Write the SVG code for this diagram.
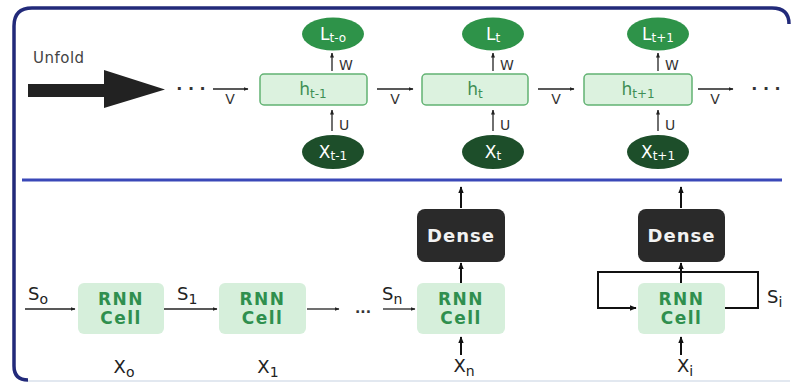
<svg xmlns="http://www.w3.org/2000/svg" width="792" height="383" viewBox="0 0 792 383">
<defs>
<marker id="ah" viewBox="0 0 10 10" refX="9" refY="5" markerWidth="5" markerHeight="5" orient="auto" markerUnits="userSpaceOnUse">
<path d="M0,1 L10,5 L0,9 Z" fill="#222"/>
</marker>
<marker id="ahb" viewBox="0 0 10 10" refX="9" refY="5" markerWidth="7" markerHeight="7" orient="auto" markerUnits="userSpaceOnUse">
<path d="M0,1 L10,5 L0,9 Z" fill="#111"/>
</marker>
</defs>
<style>
text{font-family:"DejaVu Sans","Liberation Sans",sans-serif;}
.lbl{fill:#333;font-size:14px;}
.hbox{fill:#dcf2df;stroke:#62b273;stroke-width:1.5;}
.hl{fill:#3f8f55;font-size:17px;text-anchor:middle;}
.Lnode{fill:#2e9349;}
.Xnode{fill:#1d4e2a;}
.wt{fill:#fff;font-size:17px;text-anchor:middle;}
.cell{fill:#d6efdb;}
.ct{fill:#2f8f4e;font-size:17px;font-weight:700;text-anchor:middle;letter-spacing:1.5px;}
.dense{fill:#2a2a2a;}
.dt{fill:#f2f2f2;font-size:18px;font-weight:700;text-anchor:middle;letter-spacing:1px;}
.xl{fill:#222;font-size:18px;text-anchor:middle;}
.sl{fill:#222;font-size:18px;}
.c{stroke:#222;stroke-width:1.3;fill:none;}
.cb{stroke:#111;stroke-width:2;fill:none;}
.sub{font-size:12px;}
.sub2{font-size:14px;}
</style>
<rect x="0" y="0" width="792" height="383" fill="#ffffff"/>
<g id="frame">
<path d="M28 380 Q14 380 14 366 L14 26 Q14 8 32 8 L772 8 Q789 8 789 24" fill="none" stroke="#222a7a" stroke-width="3.5"/>
<line x1="28" y1="381" x2="790" y2="381" stroke="#e2e8f0" stroke-width="2"/>
<line x1="22" y1="180" x2="782" y2="180" stroke="#3a48b8" stroke-width="3"/>
</g>

<g id="unfold">
<text x="33" y="63" style="font-size:15px;fill:#444;letter-spacing:0.5px">Unfold</text>
<path d="M28 84 L104 84 L104 70 L165 89.5 L104 108 L104 97 L28 97 Z" fill="#222"/>
</g>

<g id="connectors">
<line x1="213" y1="89" x2="248" y2="89" class="c" marker-end="url(#ah)"/>
<line x1="377" y1="89" x2="413" y2="89" class="c" marker-end="url(#ah)"/>
<line x1="538" y1="89" x2="574" y2="89" class="c" marker-end="url(#ah)"/>
<line x1="698" y1="89" x2="733" y2="89" class="c" marker-end="url(#ah)"/>
<line x1="332" y1="71" x2="332" y2="53" class="c" marker-end="url(#ah)"/>
<line x1="493" y1="71" x2="493" y2="53" class="c" marker-end="url(#ah)"/>
<line x1="658" y1="71" x2="658" y2="53" class="c" marker-end="url(#ah)"/>
<line x1="332" y1="131" x2="332" y2="110" class="c" marker-end="url(#ah)"/>
<line x1="493" y1="131" x2="493" y2="110" class="c" marker-end="url(#ah)"/>
<line x1="658" y1="131" x2="658" y2="110" class="c" marker-end="url(#ah)"/>
<line x1="25" y1="309" x2="75" y2="309" class="c" marker-end="url(#ah)"/>
<line x1="164" y1="309" x2="217" y2="309" class="c" marker-end="url(#ah)"/>
<line x1="307" y1="309" x2="339" y2="309" class="c" marker-end="url(#ah)"/>
<line x1="383" y1="309" x2="415" y2="309" class="c" marker-end="url(#ah)"/>
<line x1="461" y1="208" x2="461" y2="187" class="cb" marker-end="url(#ahb)"/>
<line x1="461" y1="283" x2="461" y2="263" class="cb" marker-end="url(#ahb)"/>
<line x1="461" y1="355" x2="461" y2="337" class="cb" marker-end="url(#ahb)"/>
<line x1="681" y1="208" x2="681" y2="187" class="cb" marker-end="url(#ahb)"/>
<line x1="681" y1="283" x2="681" y2="263" class="cb" marker-end="url(#ahb)"/>
<line x1="681" y1="355" x2="681" y2="337" class="cb" marker-end="url(#ahb)"/>
<path d="M725 308 L758 308 L758 272 L598 272 L598 308 L636 308" class="cb" marker-end="url(#ahb)"/>
</g>

<g id="labels">
<text x="191" y="94" style="fill:#333;font-size:16px;font-weight:700;text-anchor:middle">· · ·</text>
<text x="766" y="94" style="fill:#333;font-size:16px;font-weight:700;text-anchor:middle">· · ·</text>
<text x="230" y="104" class="lbl" text-anchor="middle">V</text>
<text x="395" y="104" class="lbl" text-anchor="middle">V</text>
<text x="556" y="104" class="lbl" text-anchor="middle">V</text>
<text x="715" y="104" class="lbl" text-anchor="middle">V</text>
<text x="339" y="70" class="lbl">W</text>
<text x="500" y="70" class="lbl">W</text>
<text x="665" y="70" class="lbl">W</text>
<text x="339" y="130" class="lbl">U</text>
<text x="500" y="130" class="lbl">U</text>
<text x="665" y="130" class="lbl">U</text>
<text x="28" y="300" class="sl">S<tspan class="sub2" dy="4">o</tspan></text>
<text x="177" y="300" class="sl">S<tspan class="sub2" dy="4">1</tspan></text>
<text x="355" y="313" style="fill:#333;font-size:14px;font-weight:700">...</text>
<text x="382" y="300" class="sl">S<tspan class="sub2" dy="4">n</tspan></text>
<text x="767" y="303" class="sl">S<tspan class="sub2" dy="4">i</tspan></text>
<text x="124" y="373" class="xl">X<tspan class="sub2" dy="4">o</tspan></text>
<text x="268" y="373" class="xl">X<tspan class="sub2" dy="4">1</tspan></text>
<text x="464" y="372" class="xl">X<tspan class="sub2" dy="4">n</tspan></text>
<text x="685" y="372" class="xl">X<tspan class="sub2" dy="4">i</tspan></text>
</g>

<g id="h_t-1">
<rect x="260" y="74" width="107" height="31" rx="4" class="hbox"/>
<text x="313" y="95" class="hl">h<tspan class="sub" dy="3">t-1</tspan></text>
</g>
<g id="h_t">
<rect x="422" y="74" width="106" height="31" rx="4" class="hbox"/>
<text x="475" y="95" class="hl">h<tspan class="sub" dy="3">t</tspan></text>
</g>
<g id="h_t+1">
<rect x="584" y="74" width="108" height="31" rx="4" class="hbox"/>
<text x="638" y="95" class="hl">h<tspan class="sub" dy="3">t+1</tspan></text>
</g>

<g id="L_t-0">
<ellipse cx="333" cy="34" rx="31" ry="16.5" class="Lnode"/>
<text x="333" y="40" class="wt">L<tspan class="sub" dy="2">t-o</tspan></text>
</g>
<g id="L_t">
<ellipse cx="493" cy="34" rx="31" ry="16.5" class="Lnode"/>
<text x="493" y="40" class="wt">L<tspan class="sub" dy="2">t</tspan></text>
</g>
<g id="L_t+1">
<ellipse cx="658" cy="34" rx="31" ry="16.5" class="Lnode"/>
<text x="658" y="40" class="wt">L<tspan class="sub" dy="2">t+1</tspan></text>
</g>

<g id="X_t-1">
<ellipse cx="333" cy="152" rx="31" ry="17" class="Xnode"/>
<text x="333" y="158" class="wt">X<tspan class="sub" dy="2">t-1</tspan></text>
</g>
<g id="X_t">
<ellipse cx="493" cy="152" rx="31" ry="17" class="Xnode"/>
<text x="493" y="158" class="wt">X<tspan class="sub" dy="2">t</tspan></text>
</g>
<g id="X_t+1">
<ellipse cx="658" cy="152" rx="31" ry="17" class="Xnode"/>
<text x="658" y="158" class="wt">X<tspan class="sub" dy="2">t+1</tspan></text>
</g>

<g id="cell_0">
<rect x="78" y="283" width="86" height="51" rx="6" class="cell"/>
<text x="121" y="305" class="ct">RNN</text>
<text x="121" y="324" class="ct">Cell</text>
</g>
<g id="cell_1">
<rect x="219" y="283" width="87" height="51" rx="6" class="cell"/>
<text x="262.5" y="305" class="ct">RNN</text>
<text x="262.5" y="324" class="ct">Cell</text>
</g>
<g id="cell_n">
<rect x="417" y="283" width="88" height="51" rx="6" class="cell"/>
<text x="461" y="305" class="ct">RNN</text>
<text x="461" y="324" class="ct">Cell</text>
</g>
<g id="cell_i">
<rect x="638" y="283" width="87" height="51" rx="6" class="cell"/>
<text x="681.5" y="305" class="ct">RNN</text>
<text x="681.5" y="324" class="ct">Cell</text>
</g>
<g id="dense_n">
<rect x="417" y="209" width="88" height="53" rx="8" class="dense"/>
<text x="461" y="242" class="dt">Dense</text>
</g>
<g id="dense_i">
<rect x="638" y="209" width="87" height="53" rx="8" class="dense"/>
<text x="681.5" y="242" class="dt">Dense</text>
</g>
</svg>
